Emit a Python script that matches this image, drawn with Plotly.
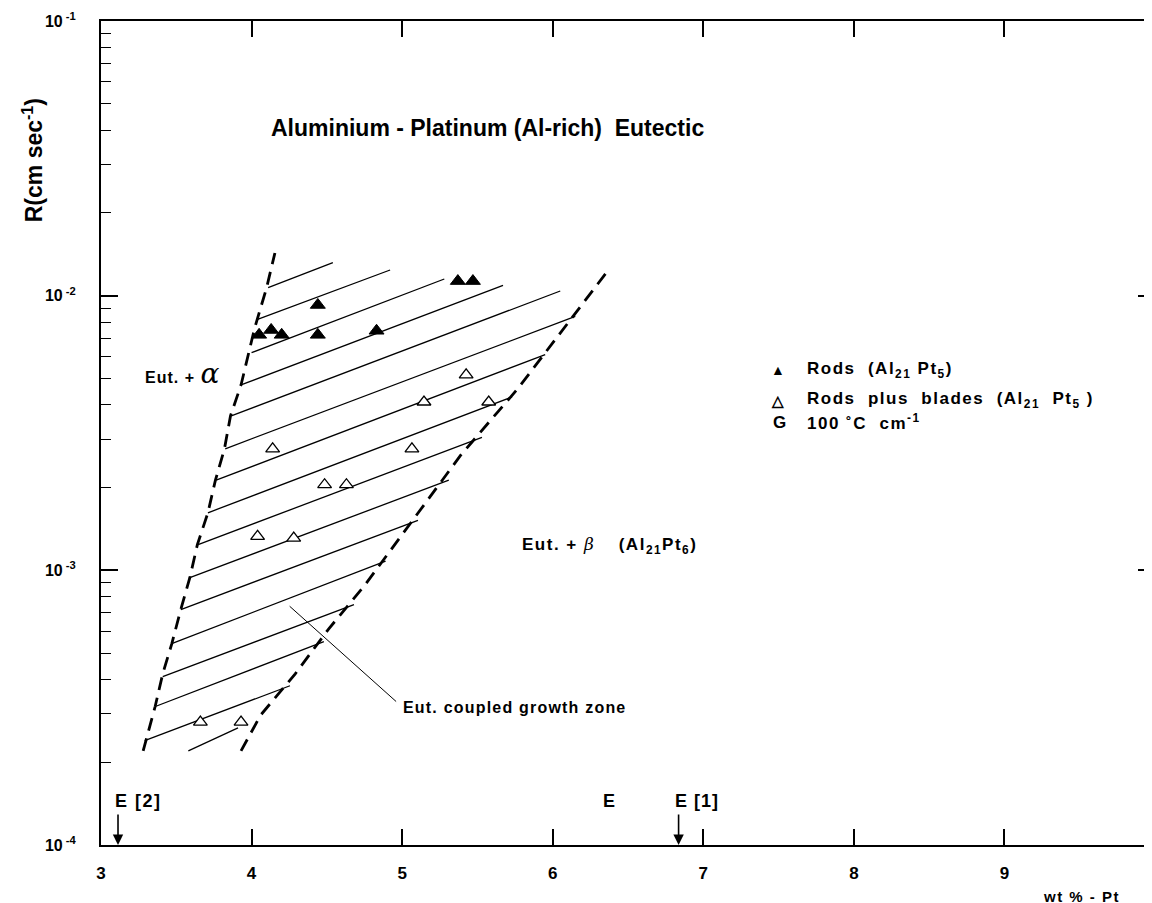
import plotly.graph_objects as go

# ---------------- data ----------------
# boundaries of the coupled growth zone (wt% Pt, R cm/s)
left_bx = [3.28, 3.36, 3.41, 3.47, 3.53, 3.59, 3.64, 3.71, 3.76, 3.82, 3.86, 3.93, 4.02, 4.10, 4.155]
left_br = [2.2e-4, 3.2e-4, 4.2e-4, 5.4e-4, 7.2e-4, 9.4e-4, 1.24e-3, 1.62e-3, 2.13e-3, 2.77e-3,
           3.65e-3, 4.73e-3, 7.6e-3, 1.07e-2, 1.43e-2]
right_bx = [3.93, 4.06, 4.29, 4.51, 4.75, 4.97, 5.17, 5.39, 5.64, 5.77, 6.35]
right_br = [2.2e-4, 2.97e-4, 4.2e-4, 6.1e-4, 8.8e-4, 1.28e-3, 1.79e-3, 2.63e-3, 3.8e-3, 4.6e-3, 1.2e-2]

# hatch lines inside the zone: start and end points
hatch_x0 = [3.58, 3.29, 3.365, 3.41, 3.465, 3.53, 3.59, 3.645, 3.71, 3.765, 3.825, 3.865, 3.93, 4.00, 4.04, 4.11]
hatch_r0 = [2.2e-4, 2.4e-4, 3.2e-4, 4.1e-4, 5.4e-4, 7.2e-4, 9.4e-4, 1.24e-3, 1.62e-3, 2.13e-3,
            2.77e-3, 3.65e-3, 4.73e-3, 6.2e-3, 8.2e-3, 1.07e-2]
hatch_x1 = [3.91, 4.255, 4.48, 4.68, 4.89, 5.105, 5.31, 5.53, 5.73, 5.95, 6.15, 6.05, 5.67, 5.28, 4.92, 4.54]
hatch_r1 = [2.67e-4, 3.8e-4, 5.5e-4, 7.5e-4, 1.08e-3, 1.52e-3, 2.13e-3, 3.05e-3, 4.28e-3, 6.1e-3,
            8.4e-3, 1.04e-2, 1.09e-2, 1.15e-2, 1.24e-2, 1.32e-2]

# Rods (Al21 Pt5) - filled triangles
rods_x = [4.05, 4.13, 4.20, 4.44, 4.44, 4.83, 5.37, 5.47]
rods_r = [7.2e-3, 7.5e-3, 7.2e-3, 9.25e-3, 7.2e-3, 7.45e-3, 1.13e-2, 1.13e-2]

# Rods plus blades (Al21 Pt5) - open triangles
blades_x = [4.14, 4.485, 4.63, 4.04, 4.28, 5.065, 5.145, 5.575, 5.425, 3.66, 3.93]
blades_r = [2.77e-3, 2.05e-3, 2.05e-3, 1.33e-3, 1.31e-3, 2.77e-3, 4.1e-3, 4.1e-3, 5.15e-3, 2.8e-4, 2.8e-4]

# pointer for the zone label
pointer_x = [4.253, 4.96]
pointer_r = [7.4e-4, 3.33e-4]

x_ticks = [3, 4, 5, 6, 7, 8, 9]
y_ticks = [1e-4, 1e-3, 1e-2, 1e-1]
y_ticktext = ["10<sup> -4</sup>", "10<sup> -3</sup>", "10<sup> -2</sup>", "10<sup> -1</sup>"]

FONT = "Liberation Sans, Arial, sans-serif"

fig = go.Figure()

# hatch lines
hx, hy = [], []
for a, b, c, d in zip(hatch_x0, hatch_r0, hatch_x1, hatch_r1):
    hx += [a, c, None]
    hy += [b, d, None]
fig.add_trace(go.Scatter(x=hx, y=hy, mode="lines", line=dict(color="black", width=1.3),
                         hoverinfo="skip", showlegend=False))

# dashed boundaries
for bx, br in ((left_bx, left_br), (right_bx, right_br)):
    fig.add_trace(go.Scatter(x=bx, y=br, mode="lines",
                             line=dict(color="black", width=2.8, dash="13px,8px"),
                             hoverinfo="skip", showlegend=False))

# pointer
fig.add_trace(go.Scatter(x=pointer_x, y=pointer_r, mode="lines",
                         line=dict(color="black", width=1), hoverinfo="skip", showlegend=False))

# markers
fig.add_trace(go.Scatter(x=blades_x, y=blades_r, mode="markers",
                         marker=dict(symbol="triangle-up", size=12, color="white",
                                     line=dict(color="black", width=1.3)),
                         showlegend=False))
fig.add_trace(go.Scatter(x=rods_x, y=rods_r, mode="markers",
                         marker=dict(symbol="triangle-up", size=13, color="black",
                                     line=dict(color="black", width=1)),
                         showlegend=False))

# transparent copy on the right-hand axis so that its ticks are drawn
fig.add_trace(go.Scatter(x=rods_x, y=rods_r, yaxis="y2", mode="markers",
                         marker=dict(size=1, color="rgba(0,0,0,0)"),
                         hoverinfo="skip", showlegend=False))

def sp(t, px):
    return f"<span style='letter-spacing:{px}px'>{t}</span>"

def ann(x, y, text, size=16, xanchor="left", **kw):
    fig.add_annotation(x=x, y=y, xref="x", yref="y", text=text, showarrow=False,
                       xanchor=xanchor, yanchor="middle",
                       font=dict(family=FONT, size=size, color="black", weight="bold"), **kw)

# title
ann(5.57, -1.39, "Aluminium - Platinum (Al-rich)  Eutectic", size=23, xanchor="center")

# region labels
ann(3.279, -2.282, sp("Eut. + ", 1) + "<span style='font-size:28px;font-weight:normal;font-family:DejaVu Serif'><i>α</i></span>", size=16)
ann(5.782, -2.908, sp("Eut. + ", 1.5) + "<span style='font-weight:normal;font-family:DejaVu Serif'><i>β</i></span>" + sp("    (Al<sub>21</sub>Pt<sub>6</sub>)", 1.5), size=17)
ann(4.99, -3.501, sp("Eut. coupled growth zone", 1.2), size=16)

# legend (as drawn in the figure)
ann(7.495, -2.271, "▲", size=14, xanchor="center")
ann(7.495, -2.380, "△", size=15, xanchor="center")
ann(7.45, -2.460, "G", size=17)
ann(7.675, -2.271, sp("Rods  (Al<sub>21</sub> Pt<sub>5</sub>)", 1.5), size=17)
ann(7.675, -2.380, sp("Rods  plus  blades  (Al<sub>21</sub>  Pt<sub>5</sub> )", 1.5), size=17)
ann(7.675, -2.460, sp("100 ˚C  cm<sup>-1</sup>", 1.5), size=17)

# eutectic markers on x axis
ann(3.08, -3.84, sp("E [2]", 1.5), size=18)
ann(6.32, -3.84, "E", size=18)
ann(6.80, -3.84, sp("E [1]", 1), size=18)
for ex in (3.113, 6.836):
    fig.add_annotation(x=ex, y=-4, xref="x", yref="y", ax=0, ay=-32, text="",
                       showarrow=True, arrowhead=2, arrowsize=1.3, arrowwidth=1.6,
                       arrowcolor="black")

# axis titles
fig.add_annotation(x=-0.0645, y=0.831, xref="paper", yref="paper", textangle=-90,
                   xanchor="center", yanchor="middle",
                   text="R(cm sec<sup>-1</sup>)", showarrow=False,
                   font=dict(family=FONT, size=23, color="black", weight="bold"))
fig.add_annotation(x=0.93, y=-0.0625, xref="paper", yref="paper",
                   xanchor="center", yanchor="middle",
                   text=sp("wt % - Pt", 1.5), showarrow=False,
                   font=dict(family=FONT, size=15, color="black", weight="bold"))

minor_vals = [k * 10 ** e for e in (-4, -3, -2) for k in range(2, 10)]

fig.update_xaxes(range=[3, 10], tickvals=x_ticks, ticktext=[str(v) for v in x_ticks],
                 ticks="inside", ticklen=16, tickwidth=1.5, tickcolor="black",
                 showline=True, linewidth=2, linecolor="black", mirror="ticks",
                 showgrid=False, zeroline=False, ticklabelstandoff=12, automargin=False,
                 tickfont=dict(family=FONT, size=17, color="black", weight="bold"))
fig.update_yaxes(type="log", range=[-4, -1], tickvals=y_ticks, ticktext=y_ticktext,
                 ticks="inside", ticklen=17, tickwidth=1.5, tickcolor="black",
                 minor=dict(ticks="inside", ticklen=10, tickwidth=1.3, tickcolor="black",
                            tickvals=minor_vals, showgrid=False),
                 showline=True, linewidth=2, linecolor="black", mirror="ticks",
                 showgrid=False, zeroline=False, ticklabelstandoff=20, automargin=False,
                 tickfont=dict(family=FONT, size=16, color="black", weight="bold"))

fig.update_layout(
    width=1152, height=903, margin=dict(l=93, r=5, t=13, b=66),
    paper_bgcolor="white", plot_bgcolor="white", showlegend=False,
    yaxis2=dict(overlaying="y", anchor="x", side="right", type="log", range=[-4, -1],
                tickmode="array", tickvals=minor_vals, showticklabels=False,
                ticks="inside", ticklen=10, tickwidth=1.5, tickcolor="black",
                showline=True, linewidth=2, linecolor="black",
                showgrid=False, zeroline=False, automargin=False),
)

fig.write_html("out.html")
